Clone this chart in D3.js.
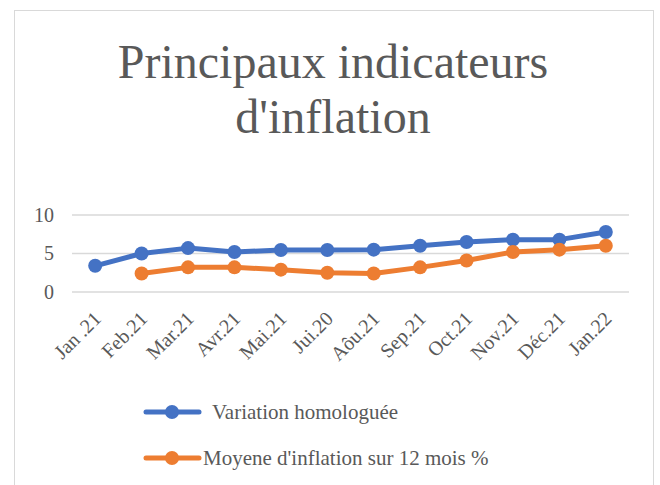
<!DOCTYPE html>
<html><head><meta charset="utf-8">
<script src="https://cdn.jsdelivr.net/npm/d3@7"></script>
</head><body style="margin:0">
<svg id="c" width="660" height="485" style="display:block;background:#fff"></svg>
<script>
const categories = ["Jan .21","Feb.21","Mar.21","Avr.21","Mai.21","Jui.20","Aôu.21","Sep.21","Oct.21","Nov.21","Déc.21","Jan.22"];
const variation = [3.4,5.0,5.7,5.2,5.45,5.45,5.5,6.0,6.5,6.8,6.8,7.8];
const moyenne = [null,2.4,3.2,3.2,2.9,2.5,2.4,3.2,4.1,5.2,5.5,6.0];
const yTicks = [0,5,10];
const seriesNames = ["Variation homologuée","Moyene d'inflation sur 12 mois %"];
const colors = ["#4472C4","#ED7D31"];
const FONT = "'Liberation Serif', 'Times New Roman', serif";

const svg = d3.select("#c");
svg.append("rect").attr("x",14.5).attr("y",10.5).attr("width",639).attr("height",490)
  .attr("fill","#fff").attr("stroke","#d9d9d9").attr("stroke-width",1);

const titleLines = ["Principaux indicateurs","d'inflation"];
svg.selectAll("text.title").data(titleLines).enter().append("text").attr("class","title")
  .attr("x",333).attr("y",(t,i)=>78+i*55).attr("text-anchor","middle")
  .style("font-family",FONT).attr("font-size",48).attr("fill","#595959").text(t=>t);

const x = d3.scaleBand().domain(categories).range([72,629]);
const y = d3.scaleLinear().domain([0,10]).range([292,215]);

svg.append("g").selectAll("line").data(yTicks).enter().append("line")
  .attr("x1",72).attr("x2",629).attr("y1",d=>y(d)).attr("y2",d=>y(d))
  .attr("stroke","#d9d9d9").attr("stroke-width",1.5);

const yAxis = svg.append("g").attr("transform","translate(62,0)")
  .call(d3.axisLeft(y).tickValues(yTicks).tickSize(0).tickPadding(0));
yAxis.select(".domain").remove();
yAxis.selectAll("text").attr("font-size",20).attr("fill","#595959").attr("dx","-8").style("font-family",FONT);

const xAxis = svg.append("g").attr("transform","translate(0,292)")
  .call(d3.axisBottom(x).tickSize(0).tickPadding(0));
xAxis.select(".domain").remove();
xAxis.selectAll("text").attr("font-size",20).attr("fill","#595959").style("font-family",FONT)
  .attr("text-anchor","end").attr("dy",0).attr("y",0)
  .attr("transform","translate(7,28) rotate(-45)");

[variation, moyenne].forEach((vals,i)=>{
  const pts = categories.map((c,j)=>({c, v: vals[j]})).filter(d=>d.v!=null);
  const line = d3.line().x(d=>x(d.c)+x.bandwidth()/2).y(d=>y(d.v));
  svg.append("path").datum(pts).attr("d",line).attr("fill","none")
    .attr("stroke",colors[i]).attr("stroke-width",5).attr("stroke-linejoin","round").attr("stroke-linecap","round");
  svg.selectAll("circle.s"+i).data(pts).enter().append("circle")
    .attr("cx",d=>x(d.c)+x.bandwidth()/2).attr("cy",d=>y(d.v)).attr("r",7).attr("fill",colors[i]);
});

const legY = [412,458];
const legTx = [212,203];
seriesNames.forEach((n,i)=>{
  svg.append("line").attr("x1",146).attr("x2",199).attr("y1",legY[i]).attr("y2",legY[i])
    .attr("stroke",colors[i]).attr("stroke-width",5).attr("stroke-linecap","round");
  svg.append("circle").attr("cx",172).attr("cy",legY[i]).attr("r",7).attr("fill",colors[i]);
  svg.append("text").attr("x",legTx[i]).attr("y",legY[i]+7).style("font-family",FONT)
    .attr("font-size",21).attr("fill","#595959").text(n);
});
</script>
</body></html>
